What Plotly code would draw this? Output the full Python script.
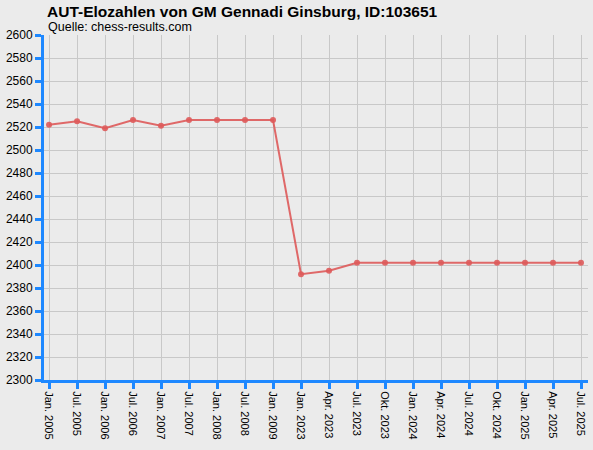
import plotly.graph_objects as go

categories = ["Jan. 2005", "Jul. 2005", "Jan. 2006", "Jul. 2006", "Jan. 2007", "Jul. 2007",
              "Jan. 2008", "Jul. 2008", "Jan. 2009", "Jan. 2023", "Apr. 2023", "Jul. 2023",
              "Okt. 2023", "Jan. 2024", "Apr. 2024", "Jul. 2024", "Okt. 2024", "Jan. 2025",
              "Apr. 2025", "Jul. 2025"]
elo = [2522, 2525, 2519, 2526, 2521, 2526, 2526, 2526, 2526, 2392, 2395, 2402,
       2402, 2402, 2402, 2402, 2402, 2402, 2402, 2402]
y_ticks = list(range(2300, 2601, 20))

title = "AUT-Elozahlen von GM Gennadi Ginsburg, ID:103651"
subtitle = "Quelle: chess-results.com"

L, R, T, B = 44, 5, 35, 70
W, H = 593, 450
pw = W - L - R
ph = H - T - B

fig = go.Figure()
fig.add_trace(go.Scatter(
    x=list(range(len(categories))), y=elo, mode="lines+markers",
    line=dict(color="rgba(222,90,90,0.9)", width=2),
    marker=dict(color="rgba(222,90,90,0.9)", size=6),
    hoverinfo="skip", showlegend=False,
))

fig.update_layout(
    width=W, height=H,
    paper_bgcolor="#ebebeb", plot_bgcolor="#ebebeb",
    margin=dict(l=L, r=R, t=T, b=B, autoexpand=False),
    font=dict(family="Liberation Sans, Arial, sans-serif", color="#000000"),
    xaxis=dict(
        range=[-0.18, 19.25], automargin=False,
        tickmode="array", tickvals=list(range(len(categories))), ticktext=categories,
        tickangle=90, tickfont=dict(size=11), ticklabeloverflow="allow",
        showgrid=True, gridcolor="#c8c8c8", gridwidth=1,
        showline=True, linecolor="#1e88ff", linewidth=3,
        ticks="outside", ticklen=6, tickwidth=3, tickcolor="#1e88ff",
        zeroline=False, fixedrange=True,
    ),
    yaxis=dict(
        range=[2300, 2600], automargin=False,
        tickmode="array", tickvals=y_ticks, ticktext=[str(v) for v in y_ticks],
        tickfont=dict(size=12), ticklabeloverflow="allow",
        showgrid=True, gridcolor="#c8c8c8", gridwidth=1,
        showline=True, linecolor="#1e88ff", linewidth=3,
        ticks="outside", ticklen=6, tickwidth=3, tickcolor="#1e88ff",
        zeroline=False, fixedrange=True,
    ),
    annotations=[
        dict(text="<b>" + title + "</b>", x=(45 - L) / pw, y=1 + (T - 1) / ph,
             xref="paper", yref="paper",
             xanchor="left", yanchor="top", showarrow=False, font=dict(size=15.5)),
        dict(text=subtitle, x=(46 - L) / pw, y=1 + (T - 18) / ph,
             xref="paper", yref="paper",
             xanchor="left", yanchor="top", showarrow=False, font=dict(size=12.5)),
    ],
)

fig.write_html(
    "out.html",
    config={"displayModeBar": False},
    post_script="document.body.style.margin='0';document.body.style.overflow='hidden';",
)
